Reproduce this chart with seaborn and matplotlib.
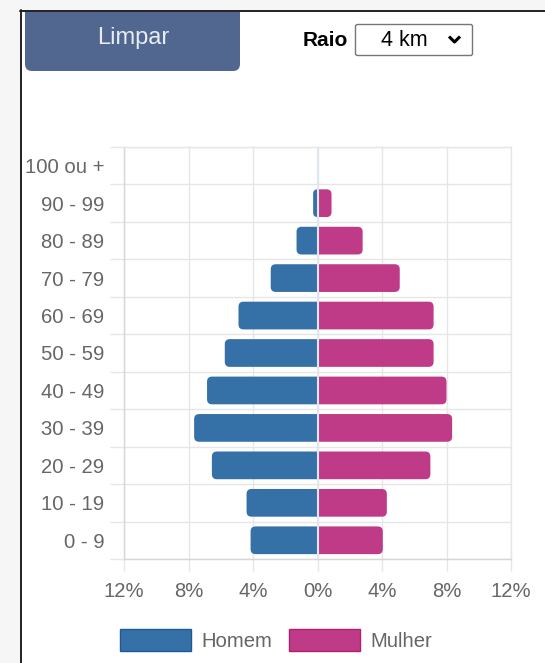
import matplotlib
matplotlib.use('Agg')
import matplotlib.pyplot as plt
from matplotlib.patches import FancyBboxPatch, Rectangle, Patch
import pandas as pd
import seaborn as sns

# dados da pirâmide etária (% da população)
faixas = ['100 ou +', '90 - 99', '80 - 89', '70 - 79', '60 - 69', '50 - 59',
          '40 - 49', '30 - 39', '20 - 29', '10 - 19', '0 - 9']
homem = [0.02, 0.27, 1.3, 2.9, 4.9, 5.75, 6.85, 7.65, 6.55, 4.4, 4.15]
mulher = [0.02, 0.87, 2.8, 5.1, 7.2, 7.2, 8.0, 8.35, 7.0, 4.3, 4.05]
sexos = ['Homem', 'Mulher']
cores = ['#3570a7', '#bf3a87']
bordas = ['#1f5a96', '#b0206f']
x_ticks = [-12, -8, -4, 0, 4, 8, 12]

df = pd.DataFrame({
    'faixa': faixas * 2,
    'sexo': ['Homem'] * len(faixas) + ['Mulher'] * len(faixas),
    'valor': [-v for v in homem] + mulher,
})

sns.set_theme(style='white')
plt.rcParams['font.family'] = ['Liberation Sans', 'DejaVu Sans']

W, H = 545, 663
fig = plt.figure(figsize=(W / 100, H / 100), dpi=100)
fig.patch.set_facecolor('white')

# fundo da "página" em pixels
bg = fig.add_axes([0, 0, 1, 1], zorder=-1)
bg.set_xlim(0, W)
bg.set_ylim(H, 0)
bg.axis('off')
bg.add_patch(FancyBboxPatch((25, -10), 215, 81, boxstyle='round,pad=0,rounding_size=7',
                            fc='#51678f', ec='none'))
bg.add_patch(Rectangle((0, 0), 20, H, color='#f6f6f6', zorder=3))
bg.add_patch(Rectangle((0, 0), W, 10, color='#f6f6f6', zorder=3))
bg.plot([20.5, 20.5], [10, H], color='#222222', lw=1.4, zorder=4)
bg.plot([20, W], [10.5, 10.5], color='#222222', lw=1.4, zorder=4)
bg.text(133, 38, 'Limpar', color='#e8edf4', fontsize=17, ha='center', va='center')
bg.text(348, 41, 'Raio', color='black', fontsize=15, fontweight='bold', ha='right', va='center')
bg.add_patch(FancyBboxPatch((355.5, 24.5), 117, 31, boxstyle='round,pad=0,rounding_size=2',
                            fc='white', ec='#767676', lw=1))
bg.text(404, 40, '4 km', color='black', fontsize=15.5, ha='center', va='center')
bg.plot([449, 454.5, 460], [36.5, 42, 36.5], color='black', lw=2.2, solid_capstyle='butt')

# gráfico
ax = fig.add_axes([124 / W, 1 - 559 / H, 387 / W, 412 / H])
sns.barplot(data=df, x='valor', y='faixa', hue='sexo', order=faixas, hue_order=sexos,
            palette=cores, dodge=False, width=0.74, orient='h', errorbar=None,
            legend=False, saturation=1, linewidth=0, ax=ax)
ax.set_xlim(-12, 12)
ax.set_ylim(len(faixas) - 0.5, -0.5)

# cantos arredondados só na ponta externa das barras
asp = (len(faixas) / 412) / (24 / 387)
raio = 5 * 24 / 387
for p in list(ax.patches):
    x0 = min(p.get_x(), p.get_x() + p.get_width())
    x1 = max(p.get_x(), p.get_x() + p.get_width())
    y0, h = p.get_y(), p.get_height()
    w = x1 - x0
    if w <= 0:
        continue
    r = min(raio, w)
    esquerda = x1 <= 1e-9
    if esquerda:
        rb = FancyBboxPatch((x0, y0), w + r, h, boxstyle=f'round,pad=0,rounding_size={r}',
                            mutation_aspect=asp, fc=p.get_facecolor(), ec='none', zorder=2)
        clip = Rectangle((x0 - 1, y0 - 1), w + 1, h + 2, transform=ax.transData)
    else:
        rb = FancyBboxPatch((x0 - r, y0), w + r, h, boxstyle=f'round,pad=0,rounding_size={r}',
                            mutation_aspect=asp, fc=p.get_facecolor(), ec='none', zorder=2)
        clip = Rectangle((0, y0 - 1), w + 1, h + 2, transform=ax.transData)
    ax.add_patch(rb)
    rb.set_clip_path(clip)
    p.set_visible(False)

ax.axvline(0, color='#e1e6ec', lw=1.5, zorder=4)

grid_c = '#e6e6e6'
ax.set_xticks(x_ticks)
ax.set_xticklabels([f'{abs(t)}%' for t in x_ticks])
ax.set_yticks(range(len(faixas)))
ax.set_yticklabels(faixas)
ax.set_yticks([i - 0.5 for i in range(len(faixas) + 1)], minor=True)
ax.grid(False)
ax.grid(axis='x', which='major', color=grid_c, lw=1)
ax.grid(axis='y', which='minor', color=grid_c, lw=1)
ax.set_axisbelow(True)
ax.tick_params(axis='x', which='major', bottom=True, length=8.6, width=1, color=grid_c,
               pad=8, labelsize=14.6, labelcolor='#666666')
ax.tick_params(axis='y', which='major', left=True, length=0, pad=14,
               labelsize=14.6, labelcolor='#666666')
ax.tick_params(axis='y', which='minor', left=True, length=10, width=1, color=grid_c)
ax.set_xlabel('')
ax.set_ylabel('')
for s in ['top', 'right']:
    ax.spines[s].set_color(grid_c)
for s in ['left', 'bottom']:
    ax.spines[s].set_color('#d6d6d6')
for s in ax.spines.values():
    s.set_linewidth(1)

handles = [Patch(facecolor=c, edgecolor=b, lw=1) for c, b in zip(cores, bordas)]
leg = fig.legend(handles, sexos, loc='center', bbox_to_anchor=(276 / W, 1 - 640 / H),
                 ncol=2, frameon=False, fontsize=14.6, handlelength=3.5, handleheight=1.25,
                 handletextpad=0.5, columnspacing=0.85)
for t in leg.get_texts():
    t.set_color('#666666')

fig.savefig('out.png', dpi=100)
